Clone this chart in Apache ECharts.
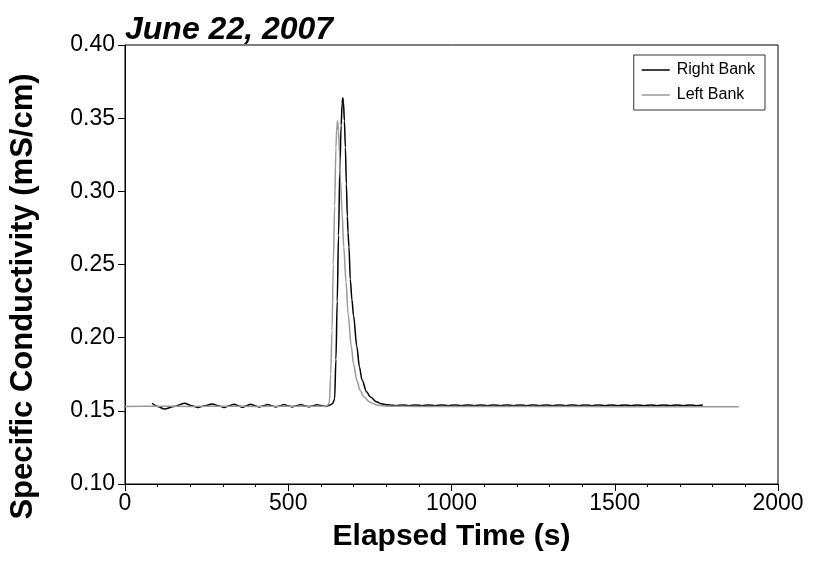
<!DOCTYPE html>
<html>
<head>
<meta charset="utf-8">
<script src="https://cdn.jsdelivr.net/npm/echarts@6/dist/echarts.min.js"></script>
<style>
  html, body { margin: 0; padding: 0; background: #fff; }
  #chart { width: 813px; height: 562px; }
</style>
</head>
<body>
<div id="chart"></div>
<script>
// Left Bank (grey) - elapsed time (s) and specific conductivity (mS/cm)
const leftTime = [0, 100, 200, 300, 400, 500, 580, 615, 622, 626, 630, 634, 638, 642, 646, 649, 651, 654, 657, 660,
  665, 670, 677, 683, 693, 700, 710, 720, 731, 750, 775, 800, 900, 1000, 1200, 1400, 1600, 1800, 1880];
const leftCond = [0.1530, 0.1531, 0.1530, 0.1531, 0.1530, 0.1531, 0.1531, 0.1532, 0.1540, 0.1560, 0.1750, 0.2050,
  0.2500, 0.2900, 0.3300, 0.3450, 0.3480, 0.3410, 0.3260, 0.3080, 0.2850, 0.2620, 0.2380, 0.2170, 0.1940, 0.1820,
  0.1710, 0.1640, 0.1596, 0.1558, 0.1538, 0.1532, 0.1530, 0.1530, 0.1529, 0.1529, 0.1528, 0.1528, 0.1528];

// Right Bank (black)
const rightTime = [83, 100, 121, 150, 182, 205, 223, 245, 268, 286, 304, 319, 334, 347, 360, 372, 385, 398, 411, 424,
  436, 449, 462, 475, 487, 500, 512, 525, 538, 551, 563, 576, 588, 601, 614, 628, 636, 642, 646, 650, 654, 658, 662,
  665, 667, 669, 672, 675, 678, 681, 683, 686, 690, 695, 700, 710, 718, 726, 740, 751, 770, 786, 800,
  810, 830, 850, 870, 890, 910, 930, 950, 970, 990, 1010, 1030, 1050, 1070, 1090, 1110, 1130, 1150, 1170, 1190,
  1210, 1230, 1250, 1270, 1290, 1310, 1330, 1350, 1370, 1390, 1410, 1430, 1450, 1470, 1490, 1510, 1530, 1550,
  1570, 1590, 1610, 1630, 1650, 1670, 1690, 1710, 1730, 1750, 1770];
const rightCond = [0.1552, 0.1530, 0.1512, 0.1530, 0.1552, 0.1535, 0.1522, 0.1535, 0.1547, 0.1535, 0.1523, 0.1534,
  0.1545, 0.1535, 0.1524, 0.1535, 0.1545, 0.1535, 0.1525, 0.1535, 0.1544, 0.1535, 0.1526, 0.1535, 0.1543, 0.1535,
  0.1527, 0.1535, 0.1543, 0.1535, 0.1528, 0.1535, 0.1542, 0.1536, 0.1530, 0.1540, 0.1550, 0.1580, 0.1850, 0.2250,
  0.2700, 0.3150, 0.3450, 0.3600, 0.3640, 0.3610, 0.3480, 0.3300, 0.3050, 0.2830, 0.2720, 0.2620, 0.2400, 0.2260,
  0.2150, 0.1940, 0.1800, 0.1710, 0.1630, 0.1596, 0.1562, 0.1548, 0.1542,
  0.1540, 0.1535, 0.1540, 0.1535, 0.1540, 0.1535, 0.1540, 0.1535, 0.1540, 0.1535, 0.1540, 0.1535, 0.1540, 0.1535,
  0.1540, 0.1535, 0.1540, 0.1535, 0.1540, 0.1535, 0.1540, 0.1535, 0.1540, 0.1535, 0.1540, 0.1535, 0.1540, 0.1535,
  0.1540, 0.1535, 0.1540, 0.1535, 0.1540, 0.1535, 0.1540, 0.1535, 0.1540, 0.1535, 0.1540, 0.1535, 0.1540, 0.1535,
  0.1540, 0.1535, 0.1540, 0.1535, 0.1540, 0.1535, 0.1540];

const xTicks = [0, 500, 1000, 1500, 2000];
const yTicks = [0.10, 0.15, 0.20, 0.25, 0.30, 0.35, 0.40];

const pairs = (t, v) => t.map((x, i) => [x, v[i]]);

const chart = echarts.init(document.getElementById('chart'), null, { renderer: 'canvas' });
const font = 'Liberation Sans, Arial, sans-serif';

chart.setOption({
  animation: false,
  backgroundColor: '#fff',
  textStyle: { fontFamily: font },
  title: {
    text: 'June 22, 2007',
    left: 120,
    top: 9,
    textStyle: { fontFamily: font, fontSize: 32, fontWeight: 'bold', fontStyle: 'italic', color: '#000' }
  },
  grid: { left: 122, right: 35, top: 45, bottom: 78, show: true, borderColor: '#000', borderWidth: 1 },
  legend: {
    data: [
      { name: 'Right Bank', icon: 'rect' },
      { name: 'Left Bank', icon: 'rect' }
    ],
    orient: 'vertical',
    right: 48,
    top: 55,
    itemWidth: 28,
    itemHeight: 1.5,
    itemGap: 9,
    padding: [7, 10, 7, 8],
    borderColor: '#333',
    borderWidth: 1,
    textStyle: { fontFamily: font, fontSize: 16, color: '#000', padding: [0, 0, 0, 2] }
  },
  xAxis: {
    type: 'value',
    min: xTicks[0],
    max: xTicks[xTicks.length - 1],
    interval: 500,
    name: 'Elapsed Time (s)',
    nameLocation: 'middle',
    nameGap: 38,
    nameTextStyle: { fontFamily: font, fontSize: 30, fontWeight: 'bold', color: '#000' },
    axisLine: { lineStyle: { color: '#000', width: 1 } },
    axisTick: { length: 7, lineStyle: { color: '#000' } },
    minorTick: { show: true, splitNumber: 5, length: 3, lineStyle: { color: '#000' } },
    axisLabel: { fontFamily: font, fontSize: 23, color: '#000', margin: 8, formatter: v => String(v) },
    splitLine: { show: false }
  },
  yAxis: {
    type: 'value',
    min: yTicks[0],
    max: yTicks[yTicks.length - 1],
    interval: 0.05,
    name: 'Specific Conductivity (mS/cm)',
    nameLocation: 'middle',
    nameGap: 86,
    nameTextStyle: { fontFamily: font, fontSize: 31, fontWeight: 'bold', color: '#000', padding: [0, 64, 0, 0] },
    axisLine: { lineStyle: { color: '#000', width: 1 } },
    axisTick: { length: 7, lineStyle: { color: '#000' } },
    axisLabel: { fontFamily: font, fontSize: 23, color: '#000', margin: 10, formatter: v => v.toFixed(2) },
    splitLine: { show: false }
  },
  series: [
    {
      name: 'Right Bank',
      type: 'line',
      symbol: 'none',
      smooth: 0.3,
      smoothMonotone: 'x',
      data: pairs(rightTime, rightCond),
      lineStyle: { color: '#000', width: 1.5 },
      itemStyle: { color: '#000' },
      z: 2
    },
    {
      name: 'Left Bank',
      type: 'line',
      symbol: 'none',
      smooth: 0.3,
      smoothMonotone: 'x',
      data: pairs(leftTime, leftCond),
      lineStyle: { color: '#9a9a9a', width: 1.5 },
      itemStyle: { color: '#9a9a9a' },
      z: 3
    }
  ]
});
</script>
</body>
</html>
